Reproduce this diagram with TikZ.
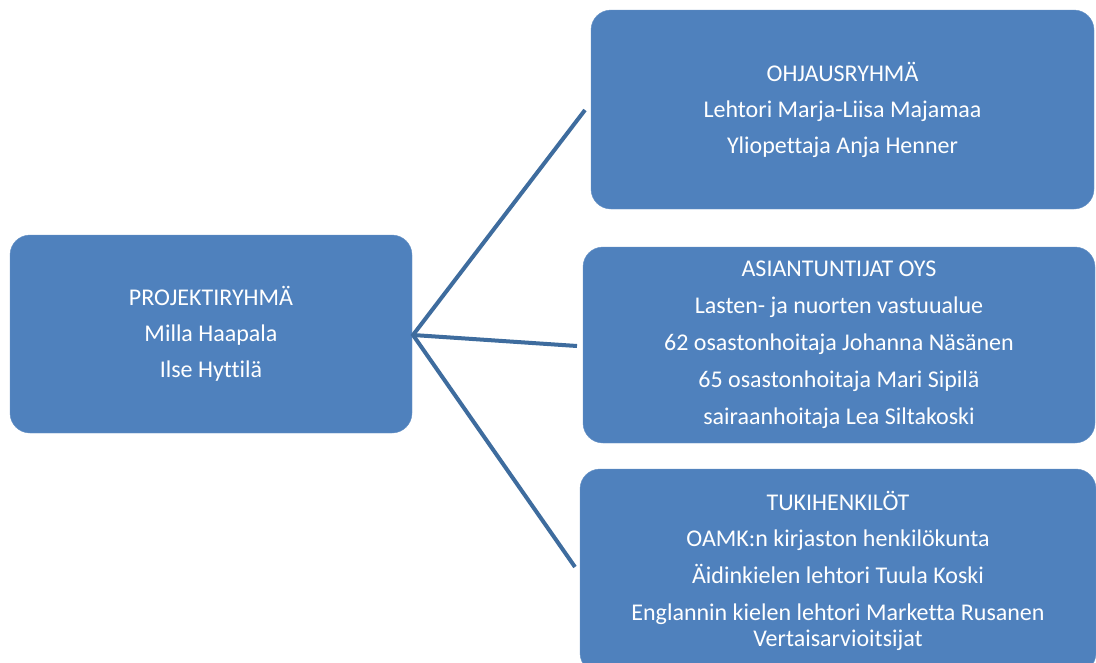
\documentclass[tikz,border=0pt]{standalone}
\usepackage{fontspec}
\setmainfont{Carlito}[Ligatures=NoCommon]

\definecolor{boxblue}{RGB}{79,129,189}
\definecolor{linkblue}{RGB}{62,108,158}

\tikzset{
  groupbox/.style={fill=boxblue, draw=boxblue!85!white, rounded corners=20pt,
    text=white, align=center, inner sep=0pt,
    font=\fontsize{24}{26}\selectfont},
  link/.style={draw=linkblue, line width=4pt}
}

\begin{document}
\begin{tikzpicture}[x=1pt,y=-1pt]
\clip (0,0) rectangle (1096,662);
\fill[white] (0,0) rectangle (1096,662);

\node[groupbox, minimum width=402pt, minimum height=198pt] (projekti) at (211,334)
  {PROJEKTIRYHMÄ\\[10pt] Milla Haapala\\[10pt] Ilse Hyttilä};

\node[groupbox, minimum width=503pt, minimum height=199pt] (ohjaus) at (842.5,109.5)
  {OHJAUSRYHMÄ\\[10pt] Lehtori Marja-Liisa Majamaa\\[10pt] Yliopettaja Anja Henner};

\node[groupbox, minimum width=512pt, minimum height=196pt] (asiantuntijat) at (839,345)
  {ASIANTUNTIJAT OYS\\[11pt] Lasten- ja nuorten vastuualue\\[11pt]
   62 osastonhoitaja Johanna Näsänen\\[11pt] 65 osastonhoitaja Mari Sipilä\\[11pt]
   sairaanhoitaja Lea Siltakoski};

\node[groupbox, minimum width=516pt, minimum height=204pt] (tuki) at (838,571)
  {TUKIHENKILÖT\\[10pt] OAMK:n kirjaston henkilökunta\\[11pt]
   Äidinkielen lehtori Tuula Koski\\[11pt] Englannin kielen lehtori Marketta Rusanen\\
   Vertaisarvioitsijat};

\coordinate (hub) at (413,335);
\coordinate (c1) at (585,110);
\coordinate (c2) at (577,346);
\coordinate (c3) at (575,567);

\draw[link] (c1) -- (hub) -- (c3);
\draw[link] (hub) -- (c2);

\end{tikzpicture}
\end{document}
